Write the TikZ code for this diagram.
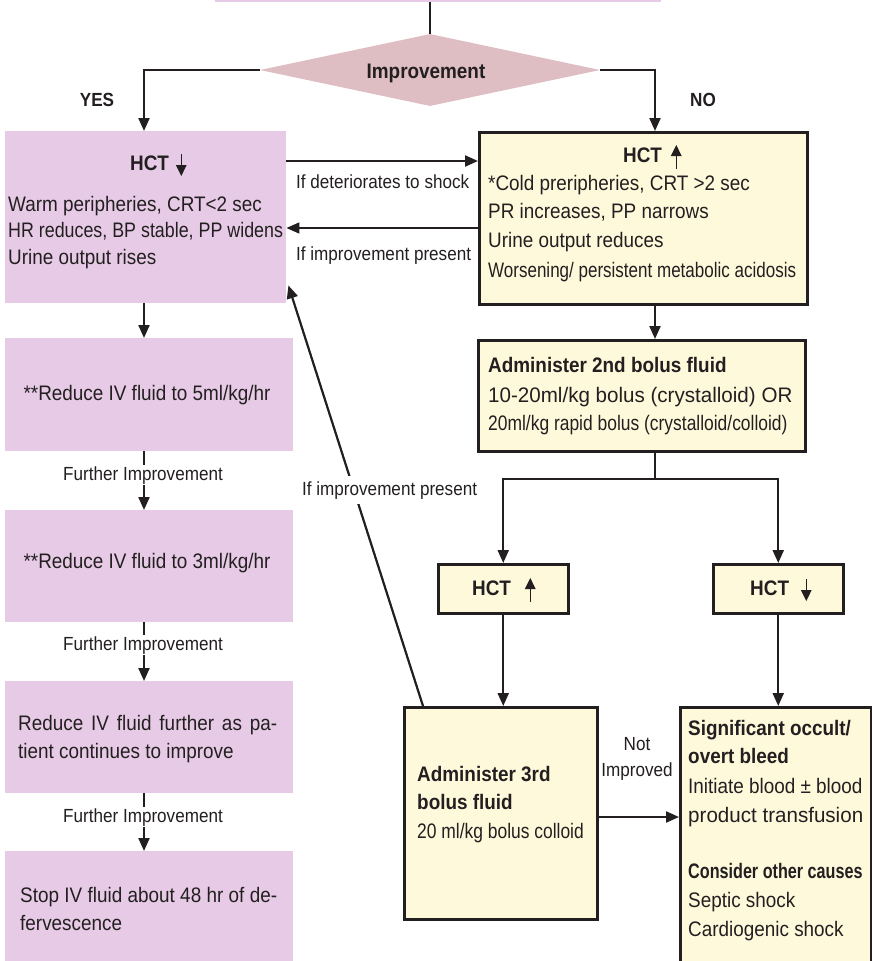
\documentclass[tikz,border=0pt]{standalone}
\usepackage{fontspec}
\setmainfont{Liberation Sans}[FakeStretch=0.9]
\newfontfamily\midfont{Liberation Sans}[FakeStretch=0.85]
\newfontfamily\tightfont{Liberation Sans}[FakeStretch=0.83]
\newfontfamily\ttightfont{Liberation Sans}[FakeStretch=0.81]
\newfontfamily\xtightfont{Liberation Sans}[FakeStretch=0.77]
\newfontfamily\widefont{Liberation Sans}[FakeStretch=0.98]
\usetikzlibrary{arrows.meta,shapes.geometric}
\definecolor{ink}{HTML}{231F20}
\definecolor{pinkbox}{HTML}{E7CBE6}
\definecolor{rose}{HTML}{DFBEC3}
\definecolor{cream}{HTML}{FFF9DC}
\newcommand{\uarr}{\tikz[baseline=0pt,x=1pt,y=1pt]{\draw[draw=ink,line width=1.3pt,-{Triangle[length=11pt,width=10.5pt]}] (0,-7) -- (0,17);}}
\newcommand{\darr}{\tikz[baseline=0pt,x=1pt,y=1pt]{\draw[draw=ink,line width=1.3pt,-{Triangle[length=11pt,width=10.5pt]}] (0,16) -- (0,-6);}}
\tikzset{
  ybox/.style={fill=cream, draw=ink, line width=2.5pt, inner sep=0pt, anchor=north west},
  pbox/.style={fill=pinkbox, draw=none, inner sep=0pt, anchor=north west},
  ln/.style={draw=ink, line width=2.2pt},
  arr/.style={ln, -{Triangle[length=13pt,width=11pt]}},
  tx/.style={inner sep=0pt, anchor=base west, text=ink, font=\fontsize{21}{26}\selectfont},
  tb/.style={tx, font=\fontsize{21}{26}\selectfont\bfseries},
  lb/.style={inner sep=0pt, anchor=base west, text=ink, font=\fontsize{19}{24}\selectfont},
  lbb/.style={lb, font=\fontsize{19}{24}\selectfont\bfseries},
}
\begin{document}
\begin{tikzpicture}[x=1pt,y=-1pt]
\useasboundingbox (0,0) rectangle (872,961);
\clip (0,0) rectangle (872,961);
\fill[white] (0,0) rectangle (872,961);

% shapes
\node[pbox, minimum width=446pt, minimum height=30pt] (top) at (215,-28.5) {};
\node[diamond, fill=rose, draw=none, inner sep=0pt, shape aspect=4.8,
      minimum width=340pt, minimum height=72pt] (imp) at (430,70) {};
\node[pbox, minimum width=281pt, minimum height=172pt] (b1) at (5,131) {};
\node[ybox, minimum width=328pt, minimum height=172pt] (y1) at (478,131) {};
\node[ybox, minimum width=327pt, minimum height=111pt] (y2) at (477,339) {};
\node[ybox, minimum width=130pt, minimum height=49pt] (h1) at (437,563) {};
\node[ybox, minimum width=130pt, minimum height=49pt] (h2) at (712,563) {};
\node[ybox, minimum width=193pt, minimum height=212pt] (y3) at (403,706) {};
\node[ybox, minimum width=191pt, minimum height=300pt] (y4) at (679,706) {};
\node[pbox, minimum width=288pt, minimum height=113pt] (p2) at (5,338) {};
\node[pbox, minimum width=288pt, minimum height=112pt] (p3) at (5,510) {};
\node[pbox, minimum width=288pt, minimum height=112pt] (p4) at (5,681) {};
\node[pbox, minimum width=288pt, minimum height=120pt] (p5) at (5,851) {};

% helper coordinates
\coordinate (cL) at (144,0);
\coordinate (cR) at (655,0);
\coordinate (r1) at (0,161);
\coordinate (r2) at (0,228);
\coordinate (r3) at (0,817);
\coordinate (sp) at (655,479);

% connectors
\draw[ln] (top.south -| imp.north) -- (imp.north);
\draw[arr] (imp.west) -| (b1.north -| cL);
\draw[arr] (imp.east) -| (y1.north -| cR);
\draw[arr] (b1.east |- r1) -- (y1.west |- r1);
\draw[arr, line width=1.6pt] (y1.west |- r2) -- (b1.east |- r2);
\draw[arr] (y1.south -| cR) -- (y2.north -| cR);
\draw[ln] (y2.south -| cR) -- (sp);
\draw[arr] (sp) -| (h1.north);
\draw[arr] (sp) -| (h2.north);
\draw[arr] (h1.south) -- (h1.south |- y3.north);
\draw[arr] (h2.south) -- (h2.south |- y4.north);
\draw[arr] (y3.east |- r3) -- (y4.west |- r3);
\draw[arr] ([xshift=20pt]y3.north west) -- ([xshift=2pt,yshift=18pt]b1.south east);
\draw[arr] (b1.south -| cL) -- (p2.north -| cL);
\draw[arr] (p2.south -| cL) -- (p3.north -| cL);
\draw[arr] (p3.south -| cL) -- (p4.north -| cL);
\draw[arr] (p4.south -| cL) -- (p5.north -| cL);

% connector labels
\node[lbb, anchor=base] (yes) at (97,106) {YES};
\node[lbb, anchor=base] (no) at (703,106) {NO};
\node[tb, anchor=base] (impt) at (426,78) {Improvement};
\node[lb] (l1) at (296,188) {If deteriorates to shock};
\node[lb] (l2) at (296,260) {If improvement present};
\node[lb, fill=white, inner xsep=3pt, inner ysep=5pt] (l3) at (299,495) {If improvement present};
\node[lb, anchor=base, fill=white, inner xsep=2pt, inner ysep=1pt] (f1) at (143,480) {Further Improvement};
\node[lb, anchor=base, fill=white, inner xsep=2pt, inner ysep=1pt] (f2) at (143,650) {Further Improvement};
\node[lb, anchor=base, fill=white, inner xsep=2pt, inner ysep=1pt] (f3) at (143,822) {Further Improvement};
\node[lb, anchor=base] (ni1) at (637,750) {Not};
\node[lb, anchor=base] (ni2) at (637,776) {Improved};

% box texts
\node[tb] (b1h) at (130,170) {HCT\hspace{7pt}\darr};
\node[tx] (b1a) at (8,211) {Warm peripheries, CRT<2 sec};
\node[tx] (b1b) at (8,237) {\midfont HR reduces, BP stable, PP widens};
\node[tx] (b1c) at (8,264) {Urine output rises};

\node[tb] (y1h) at (623,162) {HCT\hspace{9pt}\uarr};
\node[tx] (y1a) at (488,190) {*Cold preripheries, CRT >2 sec};
\node[tx] (y1b) at (488,218) {PR increases, PP narrows};
\node[tx] (y1c) at (488,247) {Urine output reduces};
\node[tx] (y1d) at (488,277) {\ttightfont Worsening/ persistent metabolic acidosis};

\node[tb] (y2a) at (488,372) {Administer 2nd bolus fluid};
\node[tx] (y2b) at (488,402) {\widefont 10-20ml/kg bolus (crystalloid) OR};
\node[tx] (y2c) at (488,430) {\tightfont 20ml/kg rapid bolus (crystalloid/colloid)};

\node[tb] (h1t) at (472,595) {HCT\hspace{14pt}\uarr};
\node[tb] (h2t) at (750,595) {HCT\hspace{12pt}\darr};

\node[tb] (y3a) at (417,781) {Administer 3rd};
\node[tb] (y3b) at (417,809) {bolus fluid};
\node[tx] (y3c) at (417,838) {\tightfont 20 ml/kg bolus colloid};

\node[tb] (y4a) at (688,735) {Significant occult/};
\node[tb] (y4b) at (688,763) {overt bleed};
\node[tx] (y4c) at (688,793) {Initiate blood ± blood};
\node[tx] (y4d) at (688,822) {\widefont product transfusion};
\node[tb] (y4e) at (688,878) {\xtightfont\bfseries Consider other causes};
\node[tx] (y4f) at (688,907) {Septic shock};
\node[tx] (y4g) at (688,936) {Cardiogenic shock};

\node[tx, anchor=base] (p2t) at (147,400) {**Reduce IV fluid to 5ml/kg/hr};
\node[tx, anchor=base] (p3t) at (147,568) {**Reduce IV fluid to 3ml/kg/hr};
\node[tx] (p4a) at (18,730) {\makebox[259pt][s]{Reduce IV fluid further as pa-}};
\node[tx] (p4b) at (18,758) {tient continues to improve};
\node[tx] (p5a) at (20,902) {\makebox[257pt][s]{Stop IV fluid about 48 hr of de-}};
\node[tx] (p5b) at (20,930) {fervescence};
\end{tikzpicture}
\end{document}
